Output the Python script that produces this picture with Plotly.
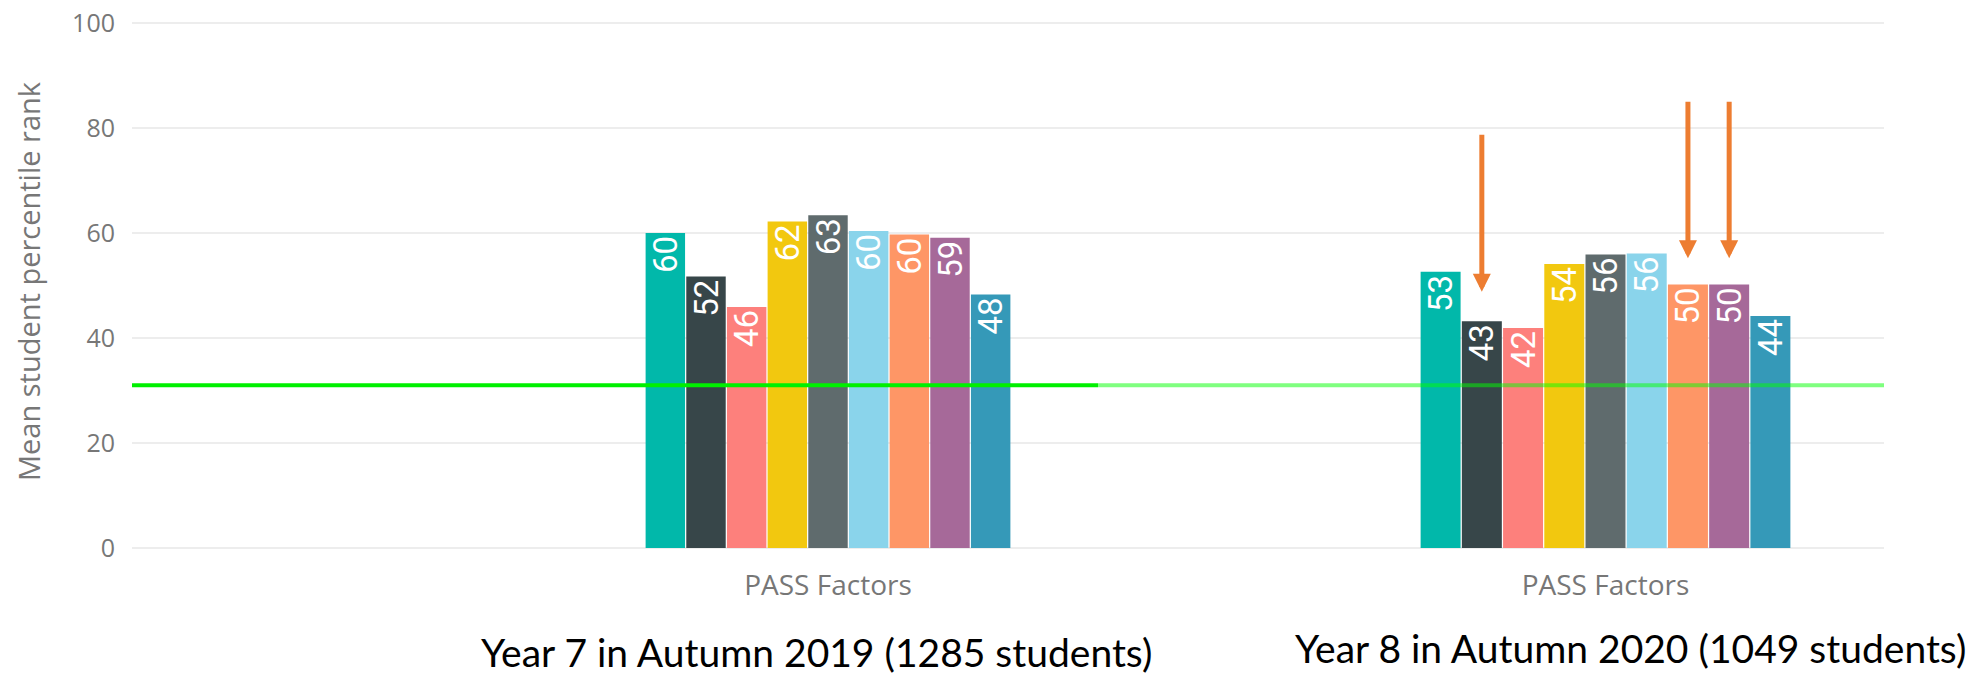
import plotly.graph_objects as go

# ---------------- data ----------------
category = ["PASS Factors"]
factor_names = [
    "Feelings about school", "Perceived learning capability", "Self-regard as a learner",
    "Preparedness for learning", "Attitudes to teachers", "General work ethic",
    "Confidence in learning", "Attitudes to attendance", "Response to curriculum demands",
]
colors = ["#01B8AA", "#374649", "#FD807C", "#F2C80F", "#5F6B6D",
          "#8AD4EB", "#FE9666", "#A66999", "#3599B8"]
year7_2019 = [60.0, 51.7, 45.9, 62.2, 63.4, 60.4, 59.7, 59.1, 48.3]
year8_2020 = [52.6, 43.2, 41.9, 54.1, 55.9, 56.1, 50.2, 50.2, 44.2]
benchmark = 31
panel_titles = ["Year 7 in Autumn 2019 (1285 students)", "Year 8 in Autumn 2020 (1049 students)"]
y_title = "Mean student percentile rank"
y_ticks = [0, 20, 40, 60, 80, 100]
arrow_bars = [1, 6, 7]          # bars of the 2020 panel that are highlighted
arrow_tail = [79, 85.3, 85.3]
arrow_tip = [48.8, 55.2, 55.2]

# ---------------- figure ----------------
W, H = 1975, 676
y_lo, y_hi = -0.4, 100.4
px_per_unit = 5.25
ml, mr = 132, 91
mt = round(23 - (y_hi - 100) * px_per_unit)
mb = round(H - 548 - (0 - y_lo) * px_per_unit)
plot_w = W - ml - mr
plot_h = H - mt - mb
split = (1098 - ml) / plot_w
bargap = 0.2
n = len(factor_names)

fig = go.Figure()
for i in range(n):
    for vals, xa in ((year7_2019, "x"), (year8_2020, "x2")):
        fig.add_trace(go.Bar(
            x=category, y=[vals[i]], name=factor_names[i], xaxis=xa, yaxis="y",
            marker=dict(color=colors[i], line=dict(width=0)),
            text=[f"{round(vals[i])}"], textposition="inside", insidetextanchor="end",
            textangle=-90,
            textfont=dict(family="Roboto, sans-serif", size=33, color="white"),
            offsetgroup=str(i), showlegend=False, hoverinfo="y+name",
        ))

tick_font = dict(family="Open Sans, Noto Sans, sans-serif", size=25, color="#777777")
xtick_font = dict(family="Open Sans, Noto Sans, sans-serif", size=28, color="#777777")
fig.update_layout(
    width=W, height=H,
    margin=dict(l=ml, r=mr, t=mt, b=mb, autoexpand=False),
    paper_bgcolor="white", plot_bgcolor="white",
    barmode="group", bargap=bargap, bargroupgap=0.03,
    uniformtext=dict(mode="show", minsize=33),
    xaxis=dict(domain=[0, split], range=[-(828 - 132) / 457.5, (1098 - 828) / 457.5],
               showgrid=False, zeroline=False, showline=False, ticks="", automargin=False,
               tickfont=xtick_font, ticklabelstandoff=16),
    xaxis2=dict(domain=[split, 1], range=[-(1605.5 - 1098) / 463.75, (1884 - 1605.5) / 463.75],
                anchor="y", showgrid=False, zeroline=False, showline=False, ticks="", automargin=False,
                tickfont=xtick_font, ticklabelstandoff=16),
    yaxis=dict(range=[y_lo, y_hi], tickvals=y_ticks, showgrid=True, gridcolor="#EDEDED", gridwidth=2,
               zeroline=False, showline=False, ticks="", tickfont=tick_font, ticklabelstandoff=16,
               automargin=False),
)

# y-axis title
fig.add_annotation(text=y_title, xref="paper", yref="paper", textangle=-90,
                   x=(28 - ml) / plot_w, y=(H - mb - 281) / plot_h, xanchor="center", yanchor="middle",
                   showarrow=False, font=dict(family="Open Sans, Noto Sans, sans-serif", size=29, color="#777777"))

# benchmark lines
fig.add_shape(type="line", xref="x domain", yref="y", x0=0, x1=1, y0=benchmark, y1=benchmark,
              line=dict(color="#00F000", width=4), layer="above")
fig.add_shape(type="line", xref="x2 domain", yref="y", x0=0, x1=1, y0=benchmark, y1=benchmark,
              line=dict(color="rgba(0,255,0,0.5)", width=4), layer="above")

# highlight arrows
group_w = 1 - bargap
for b, t0, t1 in zip(arrow_bars, arrow_tail, arrow_tip):
    xc = -group_w / 2 + (b + 0.5) * group_w / n
    fig.add_annotation(x=xc, y=t1, ax=xc, ay=t0, xref="x2", yref="y", axref="x2", ayref="y",
                       showarrow=True, arrowhead=2, arrowwidth=5, arrowsize=0.72,
                       arrowcolor="#ED7D31", text="", standoff=0)

# panel captions
title_font = dict(family="Lato, Carlito, sans-serif", size=39, color="black")
for txt, cx, cy in zip(panel_titles, [816, 1630], [652, 648]):
    fig.add_annotation(text=txt, xref="paper", yref="paper", x=(cx - ml) / plot_w,
                       y=(H - mb - cy) / plot_h, xanchor="center", yanchor="middle",
                       showarrow=False, font=title_font)

fig.write_html("out.html", config={"displayModeBar": False},
               post_script="document.body.style.margin='0';document.body.style.overflow='hidden';")
